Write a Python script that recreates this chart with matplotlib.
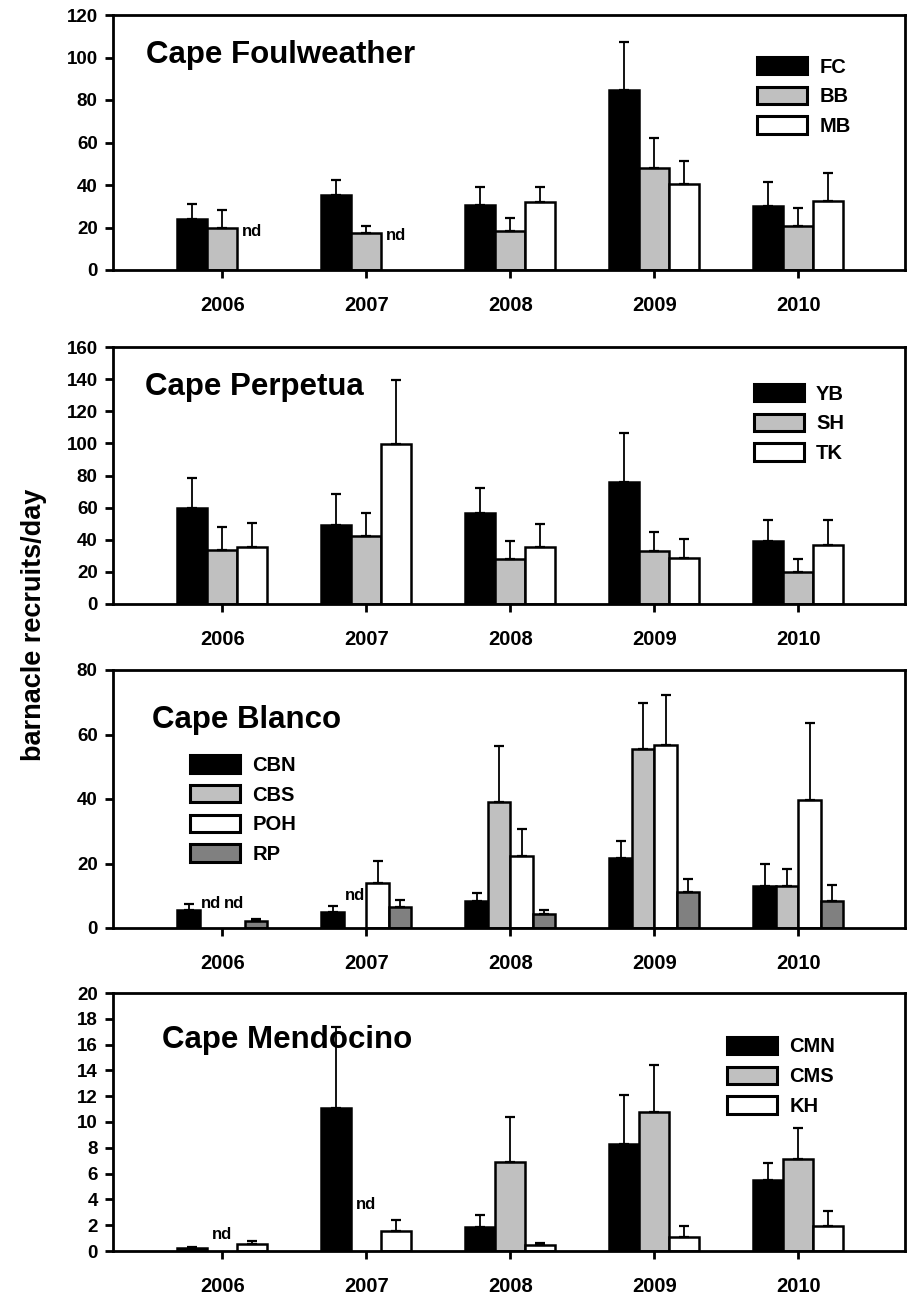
import numpy as np
import matplotlib
matplotlib.use("Agg")
import matplotlib.pyplot as plt
from matplotlib.patches import Patch

plt.rcParams["font.family"] = ["Liberation Sans", "DejaVu Sans"]
plt.rcParams["font.weight"] = "bold"

nan = np.nan
years = ["2006", "2007", "2008", "2009", "2010"]

# Cape Foulweather: mean recruits/day and standard error (upper bar only)
fc_mean = [24.2, 35.2, 30.4, 84.8, 30.2]
fc_se = [6.8, 7.0, 8.8, 22.5, 11.4]
bb_mean = [20.0, 17.2, 18.3, 47.8, 20.8]
bb_se = [8.1, 3.4, 6.2, 14.1, 8.3]
mb_mean = [nan, nan, 32.1, 40.3, 32.6]
mb_se = [nan, nan, 7.1, 11.0, 13.1]

# Cape Perpetua
yb_mean = [59.9, 49.1, 56.8, 75.9, 39.0]
yb_se = [18.6, 19.1, 15.7, 30.6, 13.2]
sh_mean = [33.4, 42.3, 28.2, 32.7, 19.9]
sh_se = [14.7, 14.1, 11.0, 11.9, 8.3]
tk_mean = [35.4, 99.3, 35.4, 28.6, 36.9]
tk_se = [14.8, 40.4, 14.1, 12.0, 15.3]

# Cape Blanco
cbn_mean = [5.7, 5.1, 8.4, 21.8, 12.9]
cbn_se = [1.7, 1.65, 2.6, 5.3, 6.8]
cbs_mean = [nan, nan, 39.2, 55.4, 13.0]
cbs_se = [nan, nan, 17.2, 14.5, 5.4]
poh_mean = [nan, 13.8, 22.4, 56.8, 39.6]
poh_se = [nan, 7.0, 8.4, 15.6, 23.9]
rp_mean = [2.2, 6.4, 4.4, 11.2, 8.4]
rp_se = [0.6, 2.2, 1.1, 3.9, 4.8]

# Cape Mendocino
cmn_mean = [0.25, 11.05, 1.84, 8.33, 5.48]
cmn_se = [0.03, 6.35, 0.93, 3.77, 1.32]
cms_mean = [nan, nan, 6.9, 10.8, 7.1]
cms_se = [nan, nan, 3.5, 3.6, 2.4]
kh_mean = [0.54, 1.55, 0.5, 1.06, 1.9]
kh_se = [0.26, 0.85, 0.1, 0.91, 1.23]

BLACK, LIGHT, WHITE, DARK = "#000000", "#c0c0c0", "#ffffff", "#808080"

panels = [
    dict(title="Cape Foulweather", names=["FC", "BB", "MB"],
         means=[fc_mean, bb_mean, mb_mean], ses=[fc_se, bb_se, mb_se],
         colors=[BLACK, LIGHT, WHITE], ymax=120, ystep=20,
         rect=(15, 270), title_xy=(0.042, 0.812), leg_xy=(0.813, 0.835),
         nd=[(2, 0, 18.3), (2, 1, 16.0)]),
    dict(title="Cape Perpetua", names=["YB", "SH", "TK"],
         means=[yb_mean, sh_mean, tk_mean], ses=[yb_se, sh_se, tk_se],
         colors=[BLACK, LIGHT, WHITE], ymax=160, ystep=20,
         rect=(347, 604), title_xy=(0.041, 0.813), leg_xy=(0.809, 0.856),
         nd=[]),
    dict(title="Cape Blanco", names=["CBN", "CBS", "POH", "RP"],
         means=[cbn_mean, cbs_mean, poh_mean, rp_mean],
         ses=[cbn_se, cbs_se, poh_se, rp_se],
         colors=[BLACK, LIGHT, WHITE, DARK], ymax=80, ystep=20,
         rect=(670, 928), title_xy=(0.049, 0.777), leg_xy=(0.097, 0.669),
         nd=[(1, 0, 7.6), (2, 0, 7.6), (1, 1, 10.2)]),
    dict(title="Cape Mendocino", names=["CMN", "CMS", "KH"],
         means=[cmn_mean, cms_mean, kh_mean], ses=[cmn_se, cms_se, kh_se],
         colors=[BLACK, LIGHT, WHITE], ymax=20, ystep=2,
         rect=(993, 1251), title_xy=(0.062, 0.787), leg_xy=(0.775, 0.830),
         nd=[(1, 0, 1.3), (1, 1, 3.6)]),
]

W, H = 911, 1300
fig = plt.figure(figsize=(W / 100, H / 100), dpi=100)
left_px, right_px = 113, 905
group_width = 0.625
x = np.arange(len(years))
EDGE_LW = 1.8

for p in panels:
    top_px, bot_px = p["rect"]
    ax = fig.add_axes([left_px / W, 1 - bot_px / H,
                       (right_px - left_px) / W, (bot_px - top_px) / H])
    n = len(p["names"])
    w = group_width / n
    handles = []
    for i, (name, m, s, c) in enumerate(zip(p["names"], p["means"], p["ses"], p["colors"])):
        pos = x + (i - (n - 1) / 2) * w
        m = np.asarray(m, dtype=float)
        s = np.asarray(s, dtype=float)
        ok = ~np.isnan(m)
        ax.bar(pos[ok], m[ok], width=w, color=c, edgecolor="black",
               linewidth=EDGE_LW, zorder=2)
        ax.errorbar(pos[ok], m[ok], yerr=[np.zeros(ok.sum()), s[ok]], fmt="none",
                    ecolor="black", elinewidth=1.3, capsize=3.3, capthick=1.6, zorder=3)
        handles.append(Patch(facecolor=c, edgecolor="black", linewidth=2.2))
    for (si, yi, ty) in p["nd"]:
        ax.text(x[yi] + (si - (n - 1) / 2) * w, ty, "nd", ha="center", va="center",
                fontsize=12, fontweight="bold", zorder=4)

    ax.set_xlim(-0.76, 4.74)
    ax.set_ylim(0, p["ymax"])
    ax.set_yticks(np.arange(0, p["ymax"] + p["ystep"] / 2, p["ystep"]))
    ax.set_xticks(x)
    ax.set_xticklabels(years)
    for sp in ax.spines.values():
        sp.set_linewidth(2.0)
    ax.tick_params(axis="both", direction="out", length=6, width=2)
    ax.tick_params(axis="x", labelsize=14.5, pad=12.5)
    ax.tick_params(axis="y", labelsize=13.5, pad=5)
    for lab in ax.get_xticklabels() + ax.get_yticklabels():
        lab.set_fontweight("bold")

    ax.text(p["title_xy"][0], p["title_xy"][1], p["title"], transform=ax.transAxes,
            ha="left", va="baseline", fontsize=22.5, fontweight="bold", zorder=1)
    ax.legend(handles, p["names"], loc="upper left", bbox_to_anchor=p["leg_xy"],
              frameon=False, borderpad=0, borderaxespad=0, handlelength=2.5,
              handleheight=0.95, handletextpad=0.6, labelspacing=0.5,
              prop=dict(size=14.5, weight="bold"))

fig.text(34 / W, 1 - 625 / H, "barnacle recruits/day", rotation=90,
         ha="center", va="center", fontsize=19.5, fontweight="bold")

fig.savefig("out.png", dpi=100, facecolor="white")
